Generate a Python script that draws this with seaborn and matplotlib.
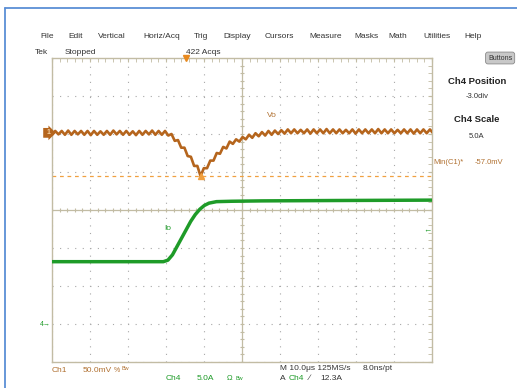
import numpy as np
import matplotlib
matplotlib.use("Agg")
import matplotlib.pyplot as plt
import matplotlib.transforms as mtransforms
from matplotlib.lines import Line2D
import seaborn as sns

# scope settings
ch1_scale_mv = 50.0
ch1_pos_div = 2.03
ch4_scale_a = 5.0
ch4_pos_div = -3.0
time_scale_us = 10.0
trig_pos_div = 3.53
trig_level_a = 12.3

# Ch1 (Vo): ripple vertices in mV, one every half ripple period
ch1_t0_us = -35.3
ch1_dt_us = 0.85
ch1_mv = [
    -2.5, 2.5, -2.0, 2.5, -2.5, 3.0, -2.5, 2.5, -2.0, 2.5,
    -2.5, 2.5, -3.0, 2.5, -2.5, 2.0, -2.5, 2.5, -2.5, 3.0,
    -2.0, 2.5, -2.5, 2.5, -2.5, 2.0, -3.0, 2.5, -2.5, 2.5,
    -2.0, 3.0, -2.5, 2.5, -2.5, 2.5, -3.5, -1.5,
    -10.5, -9.5, -19.5, -19.5, -30.5, -31.5, -43.5, -43.5, -57.0, -46.5,
    -46.5, -36.5, -36.5, -26.5, -27.5, -18.5, -20.5, -11.5, -14.5, -8.5,
    -11.5, -5.5, -8.5, -2.5, -6.5, -0.5, -4.5, 1.0, -3.5, 2.5,
    -2.5, 3.0, -1.5, 3.5, -1.0,
    4.5, -0.5, 4.5, -0.5, 4.0, -0.5, 4.5, -1.0, 4.5, -0.5,
    4.5, -0.5, 5.0, -0.5, 4.5, -0.5, 4.5, -0.5, 4.0, -0.5,
    4.5, -1.0, 4.5, -0.5, 4.5, -0.5, 4.5, -0.5, 5.0, -0.5,
    4.5, -0.5, 4.5, -0.5, 4.0, -0.5, 4.5, -0.5, 4.5, -1.0,
    4.5, -0.5, 4.5, -0.5, 4.5, -0.5,
]

# Ch4 (Io): current in A
ch4_t_us = [-35.3, -6.0, -4.8, -3.6, -2.4, -1.2, 0.0, 1.2, 2.4, 3.6,
            4.8, 6.0, 8.0, 12.0, 20.0, 40.0, 65.0]
ch4_a = [8.2, 8.2, 8.4, 9.1, 10.2, 11.3, 12.4, 13.5, 14.4, 15.1,
         15.6, 15.9, 16.1, 16.15, 16.2, 16.25, 16.3]

menu_items = ["File", "Edit", "Vertical", "Horiz/Acq", "Trig", "Display",
              "Cursors", "Measure", "Masks", "Math", "Utilities", "Help"]
menu_x = [40, 68, 98, 143, 194, 223, 265, 309, 354, 388, 423, 464]

W, H = 517, 388
C1 = "#b5651d"
C1_TXT = "#b07030"
C4 = "#1e9b28"
GRID = "#a8a8a8"
FRAME = "#c2bca4"

sns.set_style("white")
plt.rcParams["font.family"] = ["Liberation Sans", "DejaVu Sans"]

fig = plt.figure(figsize=(W / 100, H / 100), dpi=100)
fig.patch.set_facecolor("white")
ax = fig.add_axes([52 / W, 26 / H, 380 / W, 304 / H])
ax.set_xlim(0, 10)
ax.set_ylim(-4, 4)

# graticule
ax.set_xticks(range(0, 11))
ax.set_yticks(range(-4, 5))
ax.set_xticks(np.arange(0, 10.01, 0.2), minor=True)
ax.set_yticks(np.arange(-4, 4.01, 0.2), minor=True)
ax.tick_params(which="both", direction="in", length=3, color=FRAME,
               top=True, right=True, labelbottom=False, labelleft=False)
ax.grid(True, which="major", color=GRID, linestyle=(0, (1, 5.8)), linewidth=0.8)
for s in ax.spines.values():
    s.set_color(FRAME)
    s.set_linewidth(1.0)
ax.axhline(0, color=FRAME, lw=0.9, zorder=1)
ax.axvline(5, color=FRAME, lw=0.9, zorder=1)
ticks = np.arange(0, 10.01, 0.2)
ax.vlines(ticks, -0.06, 0.06, color=FRAME, lw=0.8)
ticks = np.arange(-4, 4.01, 0.2)
ax.hlines(ticks, 4.94, 5.06, color=FRAME, lw=0.8)

# traces
ch1_t = ch1_t0_us + ch1_dt_us * np.arange(len(ch1_mv))
ch1_x = ch1_t / time_scale_us + trig_pos_div
ch1_y = np.array(ch1_mv) / ch1_scale_mv + ch1_pos_div
ch4_x = np.array(ch4_t_us) / time_scale_us + trig_pos_div
ch4_y = np.array(ch4_a) / ch4_scale_a + ch4_pos_div

sns.lineplot(x=ch4_x, y=ch4_y, ax=ax, color=C4, linewidth=2.5,
             estimator=None, sort=False, zorder=3)
sns.lineplot(x=ch1_x, y=ch1_y, ax=ax, color=C1, linewidth=1.9,
             estimator=None, sort=False, zorder=4)

# min measurement
imin = int(np.argmin(ch1_mv))
min_mv = ch1_mv[imin]
min_y = min_mv / ch1_scale_mv + ch1_pos_div
ax.axhline(min_y, color="#f0a040", lw=0.9, linestyle=(0, (3, 3)), zorder=2)
ax.plot([ch1_x[imin]], [min_y], marker="^", color="#f0a040", ms=5,
        zorder=5, clip_on=False)

# labels on traces
ax.text(5.8, ch1_pos_div + 0.45, "Vo", color=C1_TXT, fontsize=6,
        ha="center", va="center")
ax.text(3.05, -0.48, "Io", color=C4, fontsize=6, ha="center", va="center")

# channel and trigger markers
bl = mtransforms.blended_transform_factory(ax.transAxes, ax.transData)
ax.text(-0.004, ch1_pos_div, " 1", transform=bl, ha="right", va="center",
        fontsize=5, color="#f5d0a0", fontweight="bold", clip_on=False,
        bbox=dict(boxstyle="rarrow,pad=0.2", fc=C1, ec="none"))
ax.text(-0.004, ch4_pos_div, "4\u2192", transform=bl, ha="right", va="center",
        fontsize=5, color=C4, clip_on=False)
ax.text(0.998, trig_level_a / ch4_scale_a + ch4_pos_div, "\u2190", transform=bl,
        ha="right", va="center", fontsize=6, color=C4, clip_on=False)
ax.plot([trig_pos_div], [4.0], marker="v", color="#e8891e", ms=5,
        clip_on=False, zorder=6)


def ftxt(x, y, s, **kw):
    kw.setdefault("va", "center")
    kw.setdefault("fontsize", 6)
    kw.setdefault("color", "#333333")
    fig.text(x / W, 1 - y / H, s, **kw)


# window border
fig.add_artist(Line2D([5 / W, 1], [1 - 8 / H, 1 - 8 / H], color="#5b8fd6", lw=1.3))
fig.add_artist(Line2D([5 / W, 5 / W], [0, 1 - 8 / H], color="#5b8fd6", lw=1.3))

# menu bar
for name, x in zip(menu_items, menu_x):
    ftxt(x, 36, name)
ftxt(35, 52, "Tek")
ftxt(65, 52, "Stopped")
ftxt(186, 52, "422 Acqs")

# side panel
ftxt(488, 58, "Buttons", fontsize=5,
     bbox=dict(boxstyle="round,pad=0.35", fc="#c8c8c8", ec="#8a8a8a", lw=0.6))
ftxt(477, 81, "Ch4 Position", ha="center", fontsize=6.8, fontweight="bold",
     color="#222222")
ftxt(477, 97, "%.1fdiv" % ch4_pos_div, ha="center", fontsize=5.5)
ftxt(477, 120, "Ch4 Scale", ha="center", fontsize=6.8, fontweight="bold",
     color="#222222")
ftxt(477, 136, "%.1fA" % ch4_scale_a, ha="center", fontsize=5.5)
ftxt(433, 162, "Min(C1)*", color=C1_TXT, fontsize=5.5)
ftxt(475, 162, "%.1fmV" % min_mv, color=C1_TXT, fontsize=5.5)

# bottom status
ftxt(52, 370, "Ch1", color=C1_TXT)
ftxt(83, 370, "%.1fmV" % ch1_scale_mv, color=C1_TXT)
ftxt(114, 370, "%", color=C1_TXT, fontsize=5)
ftxt(122, 369, "Bw", color=C1_TXT, fontsize=4)
ftxt(166, 379, "Ch4", color=C4)
ftxt(197, 379, "%.1fA" % ch4_scale_a, color=C4)
ftxt(227, 379, "\u03a9", color=C4, fontsize=5.5)
ftxt(235, 378, "Bw", color=C4, fontsize=4)
ftxt(280, 369, "M %.1f\u03bcs 125MS/s" % time_scale_us)
ftxt(363, 369, "8.0ns/pt")
ftxt(280, 378, "A")
ftxt(289, 378, "Ch4", color=C4)
ftxt(309, 378, "\u2215")
ftxt(320, 378, "%.1fA" % trig_level_a)

fig.savefig("out.png", dpi=100)
